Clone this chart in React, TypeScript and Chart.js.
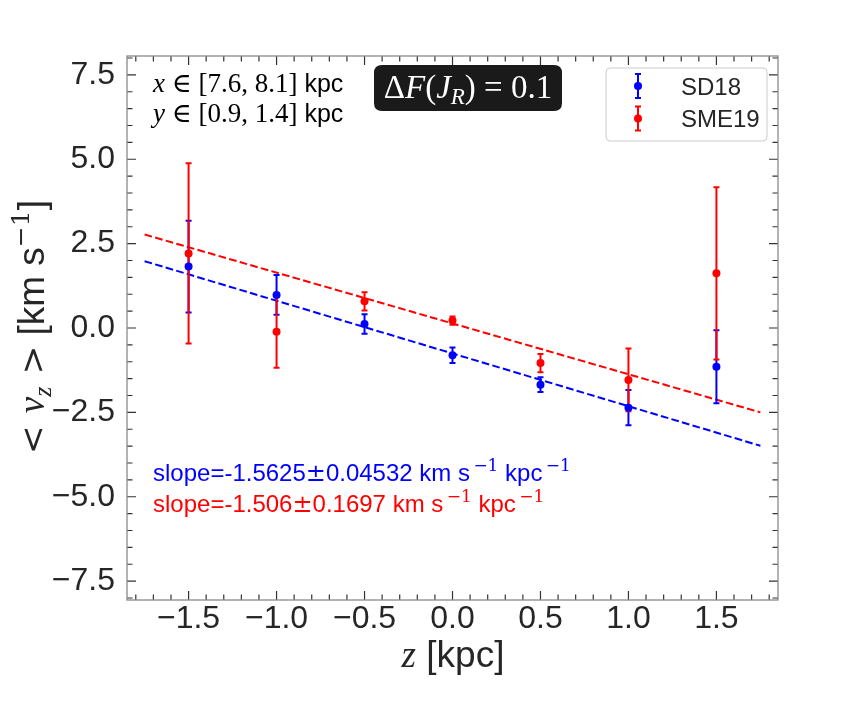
import React, { useEffect, useRef } from "react";
import { Chart, registerables } from "chart.js";

Chart.register(...registerables);

// ---- data ----
const zValues = [-1.5, -1.0, -0.5, 0.0, 0.5, 1.0, 1.5];
const sd18Mean = [1.82, 0.98, 0.12, -0.81, -1.68, -2.36, -1.15];
const sd18Err = [1.36, 0.59, 0.29, 0.23, 0.22, 0.52, 1.08];
const sme19Mean = [2.21, -0.11, 0.79, 0.22, -1.04, -1.54, 1.62];
const sme19Err = [2.67, 1.07, 0.27, 0.12, 0.27, 0.93, 2.55];
const fitX = [-1.75, 1.75];
const sd18FitY = [1.98, -3.49];
const sme19FitY = [2.77, -2.5];
const xTickValues = [-1.5, -1.0, -0.5, 0.0, 0.5, 1.0, 1.5];
const yTickValues = [-7.5, -5.0, -2.5, 0.0, 2.5, 5.0, 7.5];
const seriesLabels = ["SD18", "SME19"];
const slopeSD18 = "-1.5625";
const slopeErrSD18 = "0.04532";
const slopeSME19 = "-1.506";
const slopeErrSME19 = "0.1697";

const BLUE = "#0000ff";
const RED = "#ff0000";
const TEXT = "#262626";
const SANS = '"Liberation Sans", Arial, sans-serif';
const SERIF = '"Liberation Serif", "DejaVu Serif", serif';
const MATH = '"DejaVu Serif", serif';

type Seg = { t: string; font: string; dy?: number; color?: string };

function segWidth(ctx: CanvasRenderingContext2D, segs: Seg[]) {
  let w = 0;
  for (const s of segs) {
    ctx.font = s.font;
    w += ctx.measureText(s.t).width;
  }
  return w;
}

function drawSegs(
  ctx: CanvasRenderingContext2D,
  segs: Seg[],
  x: number,
  y: number,
  align: "left" | "center",
  color: string
) {
  const w = segWidth(ctx, segs);
  let cx = align === "center" ? x - w / 2 : x;
  ctx.textAlign = "left";
  ctx.textBaseline = "alphabetic";
  for (const s of segs) {
    ctx.font = s.font;
    ctx.fillStyle = s.color || color;
    ctx.fillText(s.t, cx, y + (s.dy || 0));
    cx += ctx.measureText(s.t).width;
  }
}

function fmtTick(v: number) {
  const s = Math.abs(v).toFixed(1);
  return v < 0 ? "\u2212" + s : s;
}

function roundRect(ctx: CanvasRenderingContext2D, x: number, y: number, w: number, h: number, r: number) {
  ctx.beginPath();
  ctx.moveTo(x + r, y);
  ctx.lineTo(x + w - r, y);
  ctx.quadraticCurveTo(x + w, y, x + w, y + r);
  ctx.lineTo(x + w, y + h - r);
  ctx.quadraticCurveTo(x + w, y + h, x + w - r, y + h);
  ctx.lineTo(x + r, y + h);
  ctx.quadraticCurveTo(x, y + h, x, y + h - r);
  ctx.lineTo(x, y + r);
  ctx.quadraticCurveTo(x, y, x + r, y);
  ctx.closePath();
}

function drawErrSymbol(ctx: CanvasRenderingContext2D, x: number, y: number, half: number, color: string) {
  ctx.strokeStyle = color;
  ctx.lineWidth = 2;
  ctx.beginPath();
  ctx.moveTo(x, y - half);
  ctx.lineTo(x, y + half);
  ctx.moveTo(x - 3, y - half);
  ctx.lineTo(x + 3, y - half);
  ctx.moveTo(x - 3, y + half);
  ctx.lineTo(x + 3, y + half);
  ctx.stroke();
  ctx.fillStyle = color;
  ctx.beginPath();
  ctx.arc(x, y, 4, 0, Math.PI * 2);
  ctx.fill();
}

const errorBarPlugin = {
  id: "errorBars",
  beforeDatasetDraw(chart: any, args: any) {
    if (args.index !== 2) return;
    const ctx: CanvasRenderingContext2D = chart.ctx;
    const xs = chart.scales.x;
    const ys = chart.scales.y;
    const series = [
      { m: sd18Mean, e: sd18Err, c: BLUE },
      { m: sme19Mean, e: sme19Err, c: RED },
    ];
    ctx.save();
    for (const s of series) {
      ctx.strokeStyle = s.c;
      ctx.lineWidth = 2;
      ctx.beginPath();
      zValues.forEach((z, i) => {
        const px = xs.getPixelForValue(z);
        const top = ys.getPixelForValue(s.m[i] + s.e[i]);
        const bot = ys.getPixelForValue(s.m[i] - s.e[i]);
        ctx.moveTo(px, top);
        ctx.lineTo(px, bot);
        ctx.moveTo(px - 3, top);
        ctx.lineTo(px + 3, top);
        ctx.moveTo(px - 3, bot);
        ctx.lineTo(px + 3, bot);
      });
      ctx.stroke();
    }
    ctx.restore();
  },
};

function slopeSegs(slope: string, err: string): Seg[] {
  const k = "24px " + SANS;
  const sup = "17px " + MATH;
  return [
    { t: "slope=" + slope, font: k },
    { t: "\u00b1", font: "24px " + MATH },
    { t: err + " km s", font: k },
    { t: "\u2009\u22121", font: sup, dy: -10 },
    { t: " kpc", font: k },
    { t: "\u2009\u22121", font: sup, dy: -10 },
  ];
}

const framePlugin = {
  id: "frameAndText",
  afterDraw(chart: any) {
    const ctx: CanvasRenderingContext2D = chart.ctx;
    const a = chart.chartArea;
    const xs = chart.scales.x;
    const ys = chart.scales.y;
    ctx.save();

    // ticks (inward, all four sides)
    ctx.strokeStyle = "#333333";
    ctx.lineWidth = 1.2;
    ctx.beginPath();
    const majorLen = 9;
    const minorLen = 5.5;
    for (let k = Math.ceil(xs.min * 10); k <= Math.floor(xs.max * 10); k++) {
      const v = k / 10;
      const len = k % 5 === 0 ? majorLen : minorLen;
      const px = xs.getPixelForValue(v);
      ctx.moveTo(px, a.bottom);
      ctx.lineTo(px, a.bottom - len);
      ctx.moveTo(px, a.top);
      ctx.lineTo(px, a.top + len);
    }
    for (let k = Math.ceil(ys.min * 2); k <= Math.floor(ys.max * 2); k++) {
      const v = k / 2;
      const len = k % 5 === 0 ? majorLen : minorLen;
      const py = ys.getPixelForValue(v);
      ctx.moveTo(a.left, py);
      ctx.lineTo(a.left + len, py);
      ctx.moveTo(a.right, py);
      ctx.lineTo(a.right - len, py);
    }
    ctx.stroke();

    // frame
    ctx.strokeStyle = "#8a8a8a";
    ctx.lineWidth = 1.3;
    ctx.strokeRect(a.left, a.top, a.right - a.left, a.bottom - a.top);

    // region annotation
    const s27 = "27px " + SERIF;
    const i27 = "italic 27px " + SERIF;
    const k25 = "25px " + SANS;
    drawSegs(ctx, [
      { t: "x", font: i27 },
      { t: " \u2208 ", font: s27 },
      { t: "[7.6, 8.1]", font: s27 },
      { t: " kpc", font: k25 },
    ], 153, 92, "left", "#000000");
    drawSegs(ctx, [
      { t: "y", font: i27 },
      { t: " \u2208 ", font: s27 },
      { t: "[0.9, 1.4]", font: s27 },
      { t: " kpc", font: k25 },
    ], 153, 122, "left", "#000000");

    // black box
    ctx.fillStyle = "#1a1a1a";
    roundRect(ctx, 374, 65, 188, 46, 8);
    ctx.fill();
    const s33 = "33px " + SERIF;
    const i33 = "italic 33px " + SERIF;
    drawSegs(ctx, [
      { t: "\u0394", font: s33 },
      { t: "F", font: i33 },
      { t: "(", font: s33 },
      { t: "J", font: i33 },
      { t: "R", font: "italic 23px " + SERIF, dy: 6 },
      { t: ")", font: s33 },
      { t: " = ", font: s33 },
      { t: "0.1", font: s33 },
    ], 468, 98, "center", "#ffffff");

    // legend
    ctx.fillStyle = "rgba(255,255,255,0.8)";
    roundRect(ctx, 606, 68, 161, 73, 4);
    ctx.fill();
    ctx.strokeStyle = "#cccccc";
    ctx.lineWidth = 1;
    ctx.stroke();
    drawErrSymbol(ctx, 638, 86, 12, BLUE);
    drawErrSymbol(ctx, 638, 118.5, 12, RED);
    ctx.font = "24px " + SANS;
    ctx.fillStyle = TEXT;
    ctx.textAlign = "left";
    ctx.textBaseline = "alphabetic";
    ctx.fillText(seriesLabels[0], 681, 95);
    ctx.fillText(seriesLabels[1], 681, 127);

    // slope texts
    drawSegs(ctx, slopeSegs(slopeSD18, slopeErrSD18), 153, 481, "left", BLUE);
    drawSegs(ctx, slopeSegs(slopeSME19, slopeErrSME19), 153, 512, "left", RED);

    // axis titles
    const i37 = "italic 37px " + SERIF;
    const k37 = "37px " + SANS;
    const m34 = "34px " + MATH;
    drawSegs(ctx, [
      { t: "z", font: i37 },
      { t: " [kpc]", font: k37 },
    ], 453, 667, "center", TEXT);

    ctx.save();
    ctx.translate(44, 327);
    ctx.rotate(-Math.PI / 2);
    drawSegs(ctx, [
      { t: "<", font: m34 },
      { t: "\u2004", font: k37 },
      { t: "v", font: i37 },
      { t: "z", font: "italic 26px " + SERIF, dy: 7 },
      { t: "\u2004", font: k37 },
      { t: ">", font: m34 },
      { t: " [km s", font: k37 },
      { t: "\u22121", font: "25px " + MATH, dy: -15 },
      { t: "]", font: k37 },
    ], 0, 0, "center", TEXT);
    ctx.restore();

    ctx.restore();
  },
};

export default function App() {
  const ref = useRef<HTMLCanvasElement | null>(null);

  useEffect(() => {
    if (!ref.current) return;
    const tickFont = { family: SANS, size: 32 };
    const chart = new Chart(ref.current, {
      type: "scatter",
      data: {
        datasets: [
          {
            type: "line",
            label: "fit SD18",
            data: fitX.map((x, i) => ({ x, y: sd18FitY[i] })),
            borderColor: BLUE,
            borderWidth: 2,
            borderDash: [7.7, 3.3],
            pointRadius: 0,
            fill: false,
            order: 3,
          } as any,
          {
            type: "line",
            label: "fit SME19",
            data: fitX.map((x, i) => ({ x, y: sme19FitY[i] })),
            borderColor: RED,
            borderWidth: 2,
            borderDash: [7.7, 3.3],
            pointRadius: 0,
            fill: false,
            order: 2,
          } as any,
          {
            label: seriesLabels[0],
            data: zValues.map((x, i) => ({ x, y: sd18Mean[i] })),
            backgroundColor: BLUE,
            borderColor: BLUE,
            borderWidth: 0,
            pointRadius: 4,
            order: 1,
          },
          {
            label: seriesLabels[1],
            data: zValues.map((x, i) => ({ x, y: sme19Mean[i] })),
            backgroundColor: RED,
            borderColor: RED,
            borderWidth: 0,
            pointRadius: 4,
            order: 0,
          },
        ],
      },
      options: {
        responsive: false,
        animation: false,
        layout: { padding: { left: 0, right: 69, top: 56, bottom: 0 } },
        plugins: { legend: { display: false }, tooltip: { enabled: false } },
        scales: {
          x: {
            type: "linear",
            min: -1.85,
            max: 1.85,
            afterBuildTicks: (s: any) => {
              s.ticks = xTickValues.map((v) => ({ value: v }));
            },
            afterFit: (s: any) => {
              s.height = 106;
            },
            grid: { display: false, drawTicks: false },
            border: { display: false },
            ticks: {
              padding: 0,
              autoSkip: false,
              maxRotation: 0,
              color: TEXT,
              font: tickFont,
              callback: (v: any) => fmtTick(Number(v)),
            },
          },
          y: {
            type: "linear",
            min: -8.06,
            max: 8.06,
            afterBuildTicks: (s: any) => {
              s.ticks = yTickValues.map((v) => ({ value: v }));
            },
            afterFit: (s: any) => {
              s.width = 127;
            },
            grid: { display: false, drawTicks: false },
            border: { display: false },
            ticks: {
              padding: 12,
              autoSkip: false,
              color: TEXT,
              font: tickFont,
              callback: (v: any) => fmtTick(Number(v)),
            },
          },
        },
      } as any,
      plugins: [errorBarPlugin, framePlugin],
    });
    return () => chart.destroy();
  }, []);

  return (
    <div style={{ position: "absolute", left: 0, top: 0, width: 847, height: 706, background: "#ffffff" }}>
      <canvas ref={ref} width={847} height={706} style={{ display: "block" }} />
    </div>
  );
}
